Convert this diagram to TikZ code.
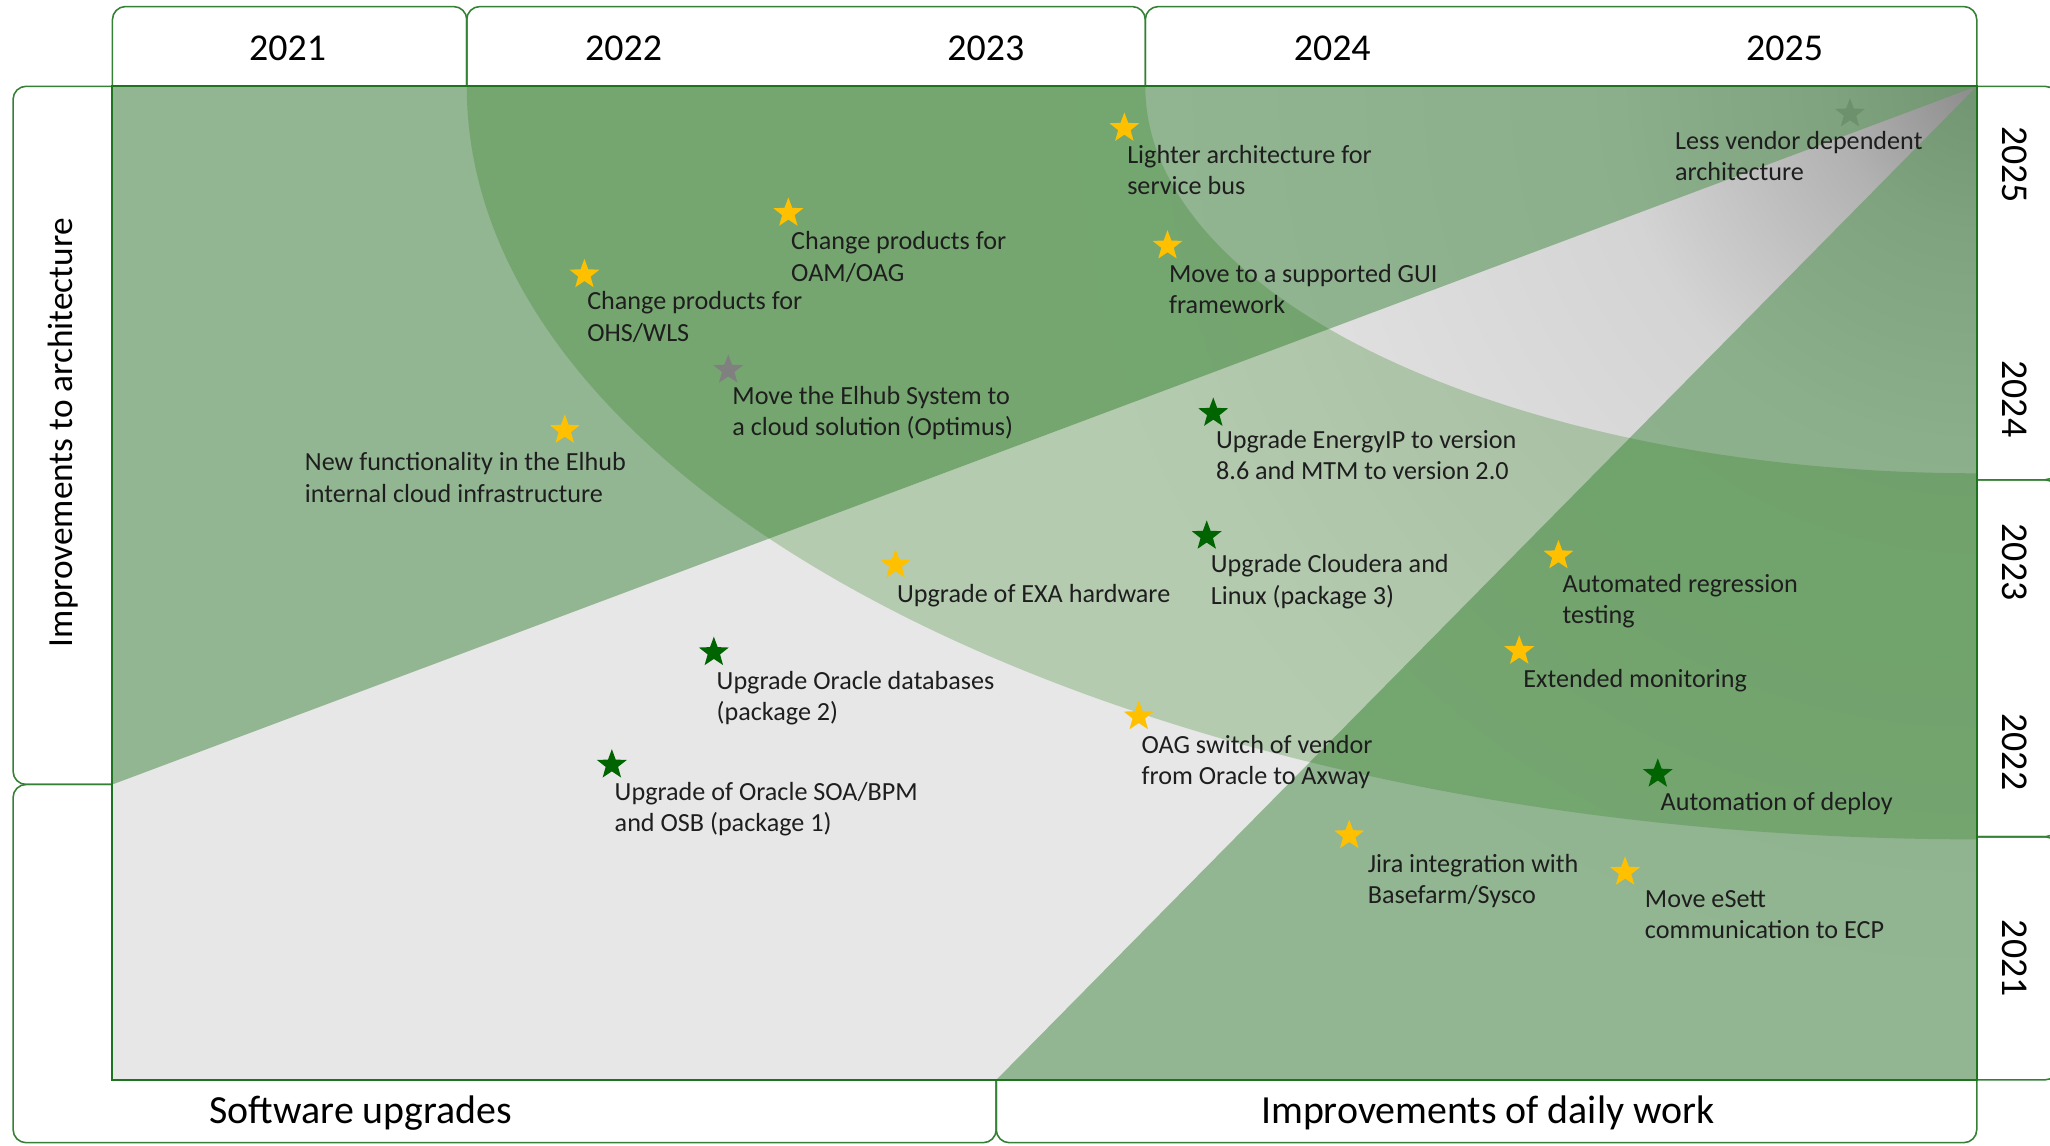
\documentclass[tikz,border=0pt]{standalone}
\usepackage{fontspec}
\setmainfont{Carlito}
\usetikzlibrary{shapes.geometric}
\definecolor{frame}{RGB}{52,128,52}
\definecolor{mainframe}{RGB}{30,115,30}
\definecolor{ystarc}{RGB}{255,192,0}
\definecolor{gstarc}{RGB}{0,100,0}
\definecolor{grstarc}{RGB}{128,128,128}
\definecolor{bandgreen}{RGB}{100,155,99}
\definecolor{ringgreen}{RGB}{30,122,14}
\definecolor{bgA}{RGB}{140,140,140}
\definecolor{bgB}{RGB}{178,178,178}
\definecolor{bgC}{RGB}{212,212,212}
\definecolor{bgD}{RGB}{231,231,231}
\definecolor{txt}{RGB}{30,30,30}
\pgfdeclareradialshading{cornershade}{\pgfpoint{0bp}{0bp}}{color(0bp)=(bgA); color(4bp)=(bgB); color(10bp)=(bgC); color(25bp)=(bgD); color(50bp)=(bgD)}
\begin{document}
\begin{tikzpicture}[x=1pt,y=-1pt,
  frameline/.style={draw=frame, line width=1.2pt, rounded corners=10pt},
  hdr/.style={inner sep=0pt, text=black, font=\fontsize{29}{34}\selectfont},
  side/.style={inner sep=0pt, text=black, font=\fontsize{27}{32}\selectfont},
  bottomlab/.style={inner sep=0pt, text=black, font=\fontsize{30.5}{36}\selectfont},
  item/.style={anchor=north west, inner sep=0pt, align=left, text=txt, font=\fontsize{20}{24}\selectfont},
  starbase/.style={star, star points=5, star point ratio=2.4, minimum size=24pt, inner sep=0pt, draw=none},
  ystar/.style={starbase, fill=ystarc},
  gstar/.style={starbase, fill=gstarc},
  grstar/.style={starbase, fill=grstarc}]
\useasboundingbox (0,0) rectangle (1568,876);
% background and translucent shapes
\begin{scope}
  \clip (86,66) rectangle (1512,826);
  \fill[bgD] (86,66) rectangle (1512,826);
  \shade[shading=cornershade] (1512,66) circle (700pt);
  \node[grstar] (s7) at (1415,87) {};
  \fill[bandgreen, opacity=0.64] (86,66) -- (1512,66) -- (86,600) -- cycle;
  \fill[bandgreen, opacity=0.64] (1512,66) -- (1512,826) -- (762,826) -- cycle;
  \fill[ringgreen, opacity=0.25, even odd rule]
    (1512,66) ellipse [x radius=1155pt, y radius=576pt]
    (1512,66) ellipse [x radius=636pt, y radius=296pt];
\end{scope}
% frame boxes
\draw[frameline] (86,66) -- (86,5) -- (357,5) -- (357,66);
\draw[frameline] (357,66) -- (357,5) -- (876,5) -- (876,66);
\draw[frameline] (876,66) -- (876,5) -- (1512,5) -- (1512,66);
\draw[frameline] (86,66) -- (10,66) -- (10,600) -- (86,600);
\draw[frameline] (86,600) -- (10,600) -- (10,874) -- (762,874) -- (762,826);
\draw[frameline] (762,826) -- (762,874) -- (1512,874) -- (1512,826);
\draw[frameline] (1512,66) -- (1574,66) -- (1574,367) -- (1512,367);
\draw[frameline] (1512,367) -- (1574,367) -- (1574,640) -- (1512,640);
\draw[frameline] (1512,640) -- (1574,640) -- (1574,826) -- (1512,826);
\draw[draw=mainframe, line width=1.6pt] (86,66) rectangle (1512,826);
% headers
\node[hdr] (h2021) at (220,37) {2021};
\node[hdr] (h2022) at (477,37) {2022};
\node[hdr] (h2023) at (754,37) {2023};
\node[hdr] (h2024) at (1019,37) {2024};
\node[hdr] (h2025) at (1365,37) {2025};
\node[side, rotate=90] (arch) at (48,331) {Improvements to architecture};
\node[bottomlab] (soft) at (276,851) {Software upgrades};
\node[bottomlab] (daily) at (1138,851) {Improvements of daily work};
\node[hdr, rotate=-90] (r2025) at (1541,126) {2025};
\node[hdr, rotate=-90] (r2024) at (1541,305) {2024};
\node[hdr, rotate=-90] (r2023) at (1541,430) {2023};
\node[hdr, rotate=-90] (r2022) at (1541,575) {2022};
\node[hdr, rotate=-90] (r2021) at (1541,733) {2021};
% items
\node[ystar] (s1) at (860,98) {};
\node[item] (t1) at (862,111) {Lighter architecture for\\service bus};
\node[ystar] (s2) at (603,163) {};
\node[item] (t2) at (605,177) {Change products for\\OAM/OAG};
\node[ystar] (s3) at (893,188) {};
\node[item] (t3) at (894,202) {Move to a supported GUI\\framework};
\node[ystar] (s4) at (447,210) {};
\node[item] (t4) at (449,223) {Change products for\\OHS/WLS};
\node[grstar] (s5) at (557,283) {};
\node[item] (t5) at (560,295) {Move the Elhub System to\\a cloud solution (Optimus)};
\node[ystar] (s6) at (432,329) {};
\node[item] (t6) at (233,346) {New functionality in the Elhub\\internal cloud infrastructure};
\node[item] (t7) at (1281,100) {Less vendor dependent\\architecture};
\node[gstar] (s8) at (928,316) {};
\node[item] (t8) at (930,329) {Upgrade EnergyIP to version\\8.6 and MTM to version 2.0};
\node[gstar] (s9) at (923,410) {};
\node[item] (t9) at (926,424) {Upgrade Cloudera and\\Linux (package 3)};
\node[ystar] (s10) at (685,432) {};
\node[item] (t10) at (686,447) {Upgrade of EXA hardware};
\node[ystar] (s11) at (1192,425) {};
\node[item] (t11) at (1195,439) {Automated regression\\testing};
\node[ystar] (s12) at (1162,498) {};
\node[item] (t12) at (1165,512) {Extended monitoring};
\node[gstar] (s13) at (546,499) {};
\node[item] (t13) at (548,513) {Upgrade Oracle databases\\(package 2)};
\node[ystar] (s14) at (871,548) {};
\node[item] (t14) at (873,562) {OAG switch of vendor\\from Oracle to Axway};
\node[gstar] (s15) at (468,585) {};
\node[item] (t15) at (470,598) {Upgrade of Oracle SOA/BPM\\and OSB (package 1)};
\node[gstar] (s16) at (1268,592) {};
\node[item] (t16) at (1270,606) {Automation of deploy};
\node[ystar] (s17) at (1032,639) {};
\node[item] (t17) at (1046,653) {Jira integration with\\Basefarm/Sysco};
\node[ystar] (s18) at (1243,667) {};
\node[item] (t18) at (1258,681) {Move eSett\\communication to ECP};
\end{tikzpicture}
\end{document}
